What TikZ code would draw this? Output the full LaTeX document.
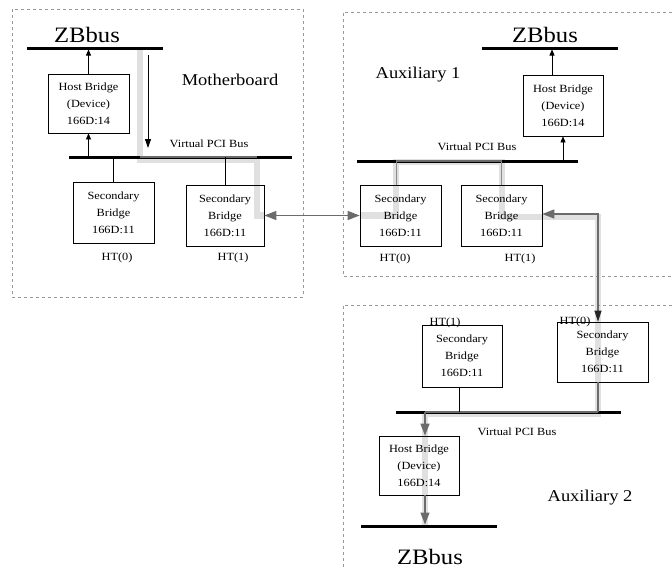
\documentclass[tikz,border=0pt]{standalone}
\usepackage{fontspec}
\setmainfont{Liberation Serif}[FakeStretch=1.12]
\usetikzlibrary{arrows.meta}
\pgfdeclarelayer{bg}
\pgfsetlayers{bg,main}
\begin{document}
\begin{tikzpicture}[x=1pt,y=-1pt,
 box/.style={draw,line width=0.7pt,minimum width=80pt,minimum height=60pt,inner sep=0pt,align=center,font=\fontsize{11}{17}\selectfont},
 bus/.style={line width=3pt},
 hl/.style={line width=6.5pt,color=black!12},
 gl/.style={line width=1.3pt,color=black!58},
 thin grey/.style={line width=0.8pt,color=black!45},
 ga/.style={-{Triangle[length=12pt,width=9pt]}},
 gda/.style={{Triangle[length=12pt,width=9pt]}-{Triangle[length=12pt,width=9pt]}},
 ba/.style={-{Triangle[length=6pt,width=5pt]},line width=0.6pt},
 region/.style={draw=black!40,dashed,line width=0.5pt},
 lbl/.style={font=\fontsize{11}{13}\selectfont,inner sep=0pt},
 big/.style={font=\fontsize{22}{24}\selectfont,inner sep=0pt},
 ttl/.style={font=\fontsize{16.5}{18}\selectfont,inner sep=0pt}]
\useasboundingbox (0,0) rectangle (672,570);

% regions
\draw[region] (12,9) rectangle (303,297);
\draw[region] (672,12) -- (343,12) -- (343,276) -- (672,276);
\draw[region] (672,305) -- (343,305) -- (343,570);

% bus coordinates
\coordinate (mbzbL) at (27,48);  \coordinate (mbzbR) at (163,48);
\coordinate (mbvbL) at (69,157); \coordinate (mbvbR) at (292,157);
\coordinate (azbL) at (482,48);  \coordinate (azbR) at (618,48);
\coordinate (avbL) at (357,161); \coordinate (avbR) at (578,161);
\coordinate (bvbL) at (396,412); \coordinate (bvbR) at (621,412);
\coordinate (bzbL) at (361,526); \coordinate (bzbR) at (497,526);

% boxes
\node[box,minimum width=81pt,minimum height=59pt] (mbhb) at (88.5,103.5) {Host Bridge\\(Device)\\166D:14};
\node[box,minimum width=81pt,minimum height=61pt] (mbsb0) at (113.5,212.5) {Secondary\\Bridge\\166D:11};
\node[box,minimum width=78pt,minimum height=61pt] (mbsb1) at (225,215.5) {Secondary\\Bridge\\166D:11};
\node[box,minimum width=80pt,minimum height=61pt] (ahb) at (563,105.5) {Host Bridge\\(Device)\\166D:14};
\node[box,minimum width=81pt,minimum height=61pt] (asb0) at (400.5,215.5) {Secondary\\Bridge\\166D:11};
\node[box,minimum width=81pt,minimum height=61pt] (asb1) at (501.5,215.5) {Secondary\\Bridge\\166D:11};
\node[box,minimum width=80pt,minimum height=62pt] (bsb1) at (462,356) {Secondary\\Bridge\\166D:11};
\node[box,minimum width=91pt,minimum height=60pt] (bsb0) at (602.5,352) {Secondary\\Bridge\\166D:11};
\node[box,minimum width=80pt,minimum height=59pt] (bhb) at (419,465.5) {Host Bridge\\(Device)\\166D:14};

% highlight paths (background)
\begin{pgfonlayer}{bg}
\draw[hl] (140,48) -- (140,160) -- (257,160) -- (257,215.5) -- (mbsb1.east);
\draw[hl] (asb0.west) -- (396,215.5) -- (396,162) -- (502,162) -- (502,217) -- (598,217) -- (598,414) -- (425,414) -- (425,526);
\end{pgfonlayer}

% buses
\draw[bus] (mbzbL) -- (mbzbR);
\draw[bus] (mbvbL) -- (mbvbR);
\draw[bus] (azbL) -- (azbR);
\draw[bus] (avbL) -- (avbR);
\draw[bus] (bvbL) -- (bvbR);
\draw[bus] (bzbL) -- (bzbR);

% grey overlays on buses
\coordinate (mbo1) at (140,157); \coordinate (mbo2) at (257,157);
\draw[gl,line width=2pt] (mbo1) -- (mbo2);
\coordinate (ao1) at (396,161); \coordinate (ao2) at (502,161);
\draw[gl,line width=2pt] (ao1) -- (ao2);
\coordinate (bo1) at (598,412); \coordinate (bo2) at (425,412);
\draw[gl,line width=2pt] (bo1) -- (bo2);

% labels
\node[big] (zb1) at (87,35) {ZBbus};
\node[big] (zb2) at (545,35) {ZBbus};
\node[big] (zb3) at (430,557) {ZBbus};
\node[ttl] (tmb) at (230,80) {Motherboard};
\node[ttl] (ta1) at (418,75) {Auxiliary 1};
\node[ttl] (ta2) at (590,498) {Auxiliary 2};
\node[lbl] (vp1) at (209,144) {Virtual PCI Bus};
\node[lbl] (vp2) at (477,147) {Virtual PCI Bus};
\node[lbl] (vp3) at (517,432) {Virtual PCI Bus};
\node[lbl] (ht1) at (117,258) {HT(0)};
\node[lbl] (ht2) at (233,258) {HT(1)};
\node[lbl] (ht3) at (395,259) {HT(0)};
\node[lbl] (ht4) at (520,259) {HT(1)};
\node[lbl] (ht5) at (445,323) {HT(1)};
\node[lbl] (ht6) at (575,322) {HT(0)};

% motherboard connectors
\draw[ba,shorten >=1.5pt] (mbhb.north) -- (mbhb.north |- mbzbL);
\draw[ba,shorten <=1.5pt] (mbhb.south |- mbvbL) -- (mbhb.south);
\draw[line width=0.6pt] (mbsb0.north) -- (mbsb0.north |- mbvbL);
\draw[line width=0.6pt] (mbsb1.north) -- (mbsb1.north |- mbvbL);
\coordinate (dn1) at (148,55); \coordinate (dn2) at (148,148);
\draw[line width=0.8pt,-{Triangle[length=9pt,width=6pt]}] (dn1) -- (dn2);

% MB <-> Aux1
\draw[gl,gda] (mbsb1.east) -- (asb0.west);

% Aux1 <-> Aux2
\draw[gl,{Triangle[length=12pt,width=9pt]}-{Triangle[length=11pt,width=7pt,color=black!85]}] ([yshift=1.5pt]asb1.east) -| ([xshift=-4.5pt]bsb0.north);

% Aux1 connectors
\draw[ba,shorten >=1.5pt] ([xshift=-11pt]ahb.north) -- ([xshift=-11pt]ahb.north |- azbL);
\draw[ba,shorten <=1.5pt] (ahb.south |- avbL) -- (ahb.south);
\draw[thin grey] ([xshift=-4.5pt]asb0.north) -- ([xshift=-4.5pt]asb0.north |- avbL);
\draw[thin grey] (asb1.north) -- (asb1.north |- avbL);

% Aux2 connectors
\draw[gl] ([xshift=-4.5pt]bsb0.south) -- ([xshift=-4.5pt]bsb0.south |- bvbL);
\draw[line width=0.6pt] ([xshift=-3pt]bsb1.south) -- ([xshift=-3pt]bsb1.south |- bvbL);
\draw[gl,ga] ([xshift=6pt]bhb.north |- bvbL) -- ([xshift=6pt]bhb.north);
\draw[gl,ga,shorten >=1.5pt] ([xshift=6pt]bhb.south) -- ([xshift=6pt]bhb.south |- bzbL);
\end{tikzpicture}
\end{document}
